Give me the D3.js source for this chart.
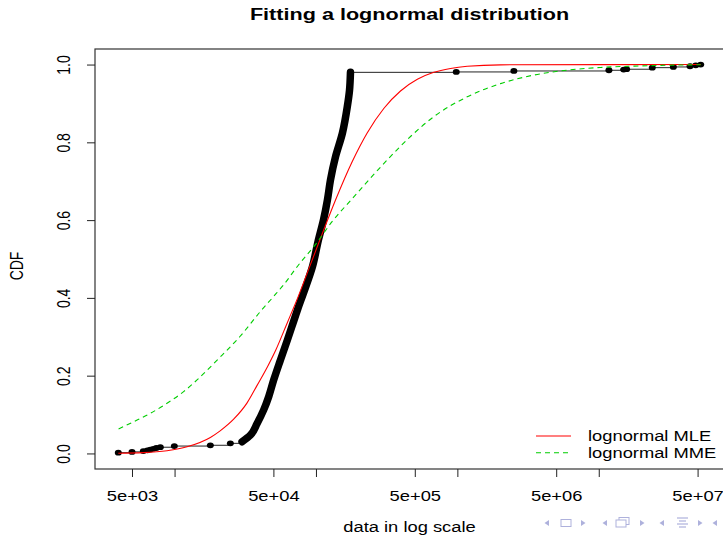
<!DOCTYPE html>
<html>
<head>
<meta charset="utf-8">
<script src="https://cdn.jsdelivr.net/npm/d3@7"></script>
<style>
body { margin: 0; background: #fff; }
svg { display: block; font-family: "Liberation Sans", Arial, Helvetica, sans-serif; }
</style>
</head>
<body>
<svg id="chart" width="723" height="536"></svg>
<script>
// empirical CDF, lower tail (sample value, cumulative fraction)
var lowX = [4000, 5000, 6010, 6418, 6740, 7075, 7430, 7930, 9960, 17910, 24810];
var lowF = [0.002, 0.004, 0.006, 0.008, 0.010, 0.012, 0.014, 0.016, 0.019, 0.021, 0.026];

// dense middle part of the sample (dots overlap into a thick band)
var bandX = [30030, 34360, 38340, 42690, 46310, 50250, 56040, 62840, 69260, 73950, 81530,
             94410, 104100, 112950, 120560, 126600, 137300, 153900, 166500, 172600, 175400];
var bandF = [0.030, 0.047, 0.077, 0.112, 0.146, 0.189, 0.240, 0.292, 0.338, 0.369, 0.412,
             0.480, 0.549, 0.600, 0.652, 0.703, 0.762, 0.824, 0.891, 0.933, 0.980];

// upper tail
var highX = [982000, 2510000, 11800000, 15000000, 15740000, 23900000, 33700000, 44200000, 48500000, 52600000];
var highF = [0.981, 0.9835, 0.9853, 0.987, 0.988, 0.992, 0.9938, 0.9956, 0.998, 1.0];

// fitted lognormal, MLE (red)
var mleX = [4000, 6000, 8845, 12250, 17910, 21000, 26180, 32580, 38340, 46000, 52000, 62520,
            75000, 93960, 110000, 137300, 180300, 230200, 301700, 396100, 521200, 681600,
            894600, 1174000, 2020000, 52600000];
var mleF = [0.0005, 0.002, 0.007, 0.017, 0.041, 0.058, 0.088, 0.130, 0.175, 0.227, 0.266, 0.335,
            0.404, 0.497, 0.562, 0.651, 0.750, 0.824, 0.887, 0.932, 0.962, 0.980,
            0.990, 0.9956, 0.9993, 1.0];

// fitted lognormal, MME (green dashed)
var mmeX = [4018, 5132, 6737, 8845, 11590, 14420, 20000, 29210, 40460, 50000, 59160, 75000, 99080,
            130000, 180300, 250000, 327300, 466300, 681600, 1174000, 2020000, 3477000, 5990000,
            10310000, 17760000, 52600000];
var mmeF = [0.063, 0.0815, 0.103, 0.129, 0.159, 0.189, 0.240, 0.302, 0.365, 0.403, 0.434, 0.484, 0.537,
            0.596, 0.655, 0.713, 0.759, 0.815, 0.866, 0.917, 0.951, 0.973, 0.9856,
            0.9925, 0.996, 0.9996];

var xTicks = [5e3, 1e4, 5e4, 1e5, 5e5, 1e6, 5e6, 1e7, 5e7];
var yTicks = [0, 0.2, 0.4, 0.6, 0.8, 1.0];
var legendLabels = ["lognormal MLE", "lognormal MME"];

var svg = d3.select("#chart");
var sx = 1.31; // the source picture is stretched horizontally
var box = {l: 95, t: 49, r: 724, b: 469};

var allX = lowX.concat(bandX, highX);
var allF = lowF.concat(bandF, highF);

// R style 4% padding on the log axis
var lx = d3.extent(allX).map(Math.log10);
var padX = (lx[1] - lx[0]) * 0.04;
var x = d3.scaleLog()
    .domain([Math.pow(10, lx[0] - padX), Math.pow(10, lx[1] + padX)])
    .range([box.l, box.r]);
var y = d3.scaleLinear()
    .domain([-0.04, 1.04])
    .range([box.b, box.t]);

// title
svg.append("text")
    .attr("transform", "translate(409.5,20) scale(" + sx + ",1)")
    .attr("text-anchor", "middle")
    .style("font-weight", "bold")
    .style("font-size", "16.5px")
    .text("Fitting a lognormal distribution");

// step segments of the ecdf (the ones inside the band are hidden by its dots)
var steps = [];
var sparseX = lowX.concat([bandX[0]]);
var sparseF = lowF.concat([bandF[0]]);
sparseX.forEach(function(v, i) {
    if (i < sparseX.length - 1) steps.push({x1: v, x2: sparseX[i + 1], f: sparseF[i]});
});
var upX = [bandX[bandX.length - 1]].concat(highX);
var upF = [bandF[bandF.length - 1]].concat(highF);
upX.forEach(function(v, i) {
    if (i < upX.length - 1) steps.push({x1: v, x2: upX[i + 1], f: upF[i]});
});
svg.append("g").selectAll("line")
    .data(steps)
    .enter()
    .append("line")
    .attr("x1", function(d) { return x(d.x1); })
    .attr("x2", function(d) { return x(d.x2); })
    .attr("y1", function(d) { return y(d.f); })
    .attr("y2", function(d) { return y(d.f); })
    .style("stroke", "#222")
    .style("stroke-width", 1);

// dense band
var band = bandX.map(function(v, i) { return [v, bandF[i]]; });
svg.append("path")
    .datum(band)
    .attr("d", d3.line()
        .x(function(d) { return x(d[0]); })
        .y(function(d) { return y(d[1]); })
        .curve(d3.curveMonotoneY))
    .style("fill", "none")
    .style("stroke", "#000")
    .style("stroke-width", 7.5)
    .style("stroke-linecap", "round")
    .style("stroke-linejoin", "round");

// sparse points
var pts = lowX.map(function(v, i) { return [v, lowF[i]]; })
    .concat(highX.map(function(v, i) { return [v, highF[i]]; }));
svg.append("g").selectAll("ellipse")
    .data(pts)
    .enter()
    .append("ellipse")
    .attr("cx", function(d) { return x(d[0]); })
    .attr("cy", function(d) { return y(d[1]); })
    .attr("rx", 3.5)
    .attr("ry", 2.9)
    .style("fill", "#000");

// fitted curves
var curveLine = d3.line()
    .x(function(d) { return x(d[0]); })
    .y(function(d) { return y(d[1]); })
    .curve(d3.curveMonotoneX);

svg.append("path")
    .datum(mleX.map(function(v, i) { return [v, mleF[i]]; }))
    .attr("d", curveLine)
    .style("fill", "none")
    .style("stroke", "#ff0000")
    .style("stroke-width", 1.1);

svg.append("path")
    .datum(mmeX.map(function(v, i) { return [v, mmeF[i]]; }))
    .attr("d", curveLine)
    .style("fill", "none")
    .style("stroke", "#00cd00")
    .style("stroke-width", 1.1)
    .style("stroke-dasharray", "5,4");

// box
svg.append("rect")
    .attr("x", box.l)
    .attr("y", box.t)
    .attr("width", box.r - box.l)
    .attr("height", box.b - box.t)
    .style("fill", "none")
    .style("stroke", "#333")
    .style("stroke-width", 1.2);

// axes
var fmt = function(v) {
    var s = v.toExponential();
    if (s.charAt(0) !== "5") return "";
    return s.replace(/e([+-])(\d)$/, "e$10$2");
};

var gx = svg.append("g")
    .attr("transform", "translate(0," + box.b + ")")
    .call(d3.axisBottom(x).tickValues(xTicks).tickSize(8).tickFormat(fmt));
gx.select(".domain").remove();
gx.attr("font-size", null).attr("font-family", null);
gx.selectAll("line").style("stroke", "#222");
gx.selectAll("text")
    .attr("y", null)
    .attr("dy", null)
    .attr("transform", "translate(0,32) scale(" + sx + ",1)")
    .style("font-size", "14px")
    .attr("fill", "#000");

var gy = svg.append("g")
    .attr("transform", "translate(" + box.l + ",0)")
    .call(d3.axisLeft(y).tickValues(yTicks).tickSize(8).tickFormat(d3.format(".1f")));
gy.select(".domain").remove();
gy.attr("font-size", null).attr("font-family", null);
gy.selectAll("line").style("stroke", "#222");
gy.selectAll("text")
    .attr("x", null)
    .attr("dy", null)
    .attr("text-anchor", "middle")
    .attr("transform", "translate(-25,0) scale(" + sx + ",1) rotate(-90)")
    .style("font-size", "14px")
    .attr("fill", "#000");

// axis titles
svg.append("text")
    .attr("transform", "translate(409.5,532) scale(" + sx + ",1)")
    .attr("text-anchor", "middle")
    .style("font-size", "14px")
    .text("data in log scale");

svg.append("text")
    .attr("transform", "translate(23,266) scale(" + sx + ",1) rotate(-90)")
    .attr("text-anchor", "middle")
    .style("font-size", "14px")
    .text("CDF");

// legend
var leg = svg.append("g");
var legStyles = [{c: "#ff0000", dash: null}, {c: "#00cd00", dash: "5,4"}];
legendLabels.forEach(function(lab, i) {
    var ly = 436 + i * 16.8;
    leg.append("line")
        .attr("x1", 536).attr("x2", 571)
        .attr("y1", ly).attr("y2", ly)
        .style("stroke", legStyles[i].c)
        .style("stroke-width", 1.1)
        .style("stroke-dasharray", legStyles[i].dash);
    leg.append("text")
        .attr("transform", "translate(588," + (ly + 5) + ") scale(" + sx + ",1)")
        .style("font-size", "14px")
        .text(lab);
});

// beamer navigation symbols (decoration)
var nav = svg.append("g").style("fill", "#aeb1dc").style("stroke", "#aeb1dc");
function triL(cx) { nav.append("path").attr("d", "M" + (cx - 2.5) + ",523 L" + (cx + 2) + ",520 L" + (cx + 2) + ",526 Z").style("stroke", "none"); }
function triR(cx) { nav.append("path").attr("d", "M" + (cx + 2.5) + ",523 L" + (cx - 2) + ",520 L" + (cx - 2) + ",526 Z").style("stroke", "none"); }
triL(547); triR(583); triL(605); triR(642); triL(662); triR(700); triL(715);
nav.append("rect").attr("x", 561).attr("y", 519.5).attr("width", 10).attr("height", 7).style("fill", "none");
nav.append("rect").attr("x", 619).attr("y", 517.5).attr("width", 10).attr("height", 7).style("fill", "#fff");
nav.append("rect").attr("x", 616).attr("y", 520).attr("width", 10).attr("height", 7).style("fill", "#fff");
[518, 521, 524, 527].forEach(function(yy, i) {
    nav.append("line").attr("x1", 677 + (i % 2) * 2).attr("x2", 688 - (i % 2) * 2)
        .attr("y1", yy).attr("y2", yy).style("stroke-width", 1.2);
});
</script>
</body>
</html>
